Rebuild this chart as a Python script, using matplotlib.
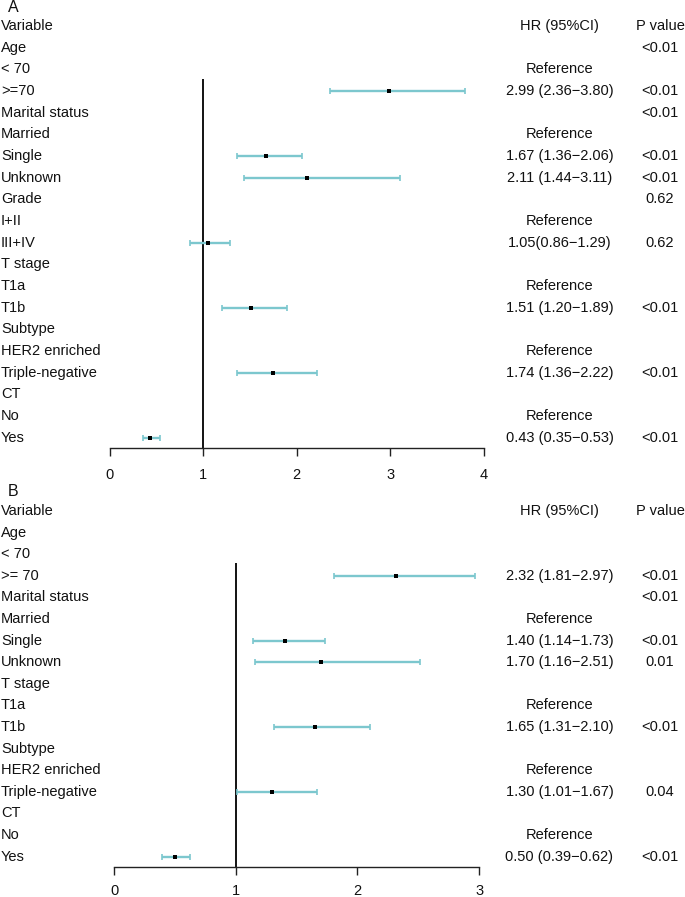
import numpy as np
import matplotlib
matplotlib.use("Agg")
import matplotlib.pyplot as plt

plt.rcParams['font.family'] = ['Liberation Sans', 'DejaVu Sans']

nan = np.nan

# ---------------- Panel A data ----------------
labels_A = ["Variable", "Age", "< 70", ">=70", "Marital status", "Married", "Single",
            "Unknown", "Grade", "I+II", "III+IV", "T stage", "T1a", "T1b", "Subtype",
            "HER2 enriched", "Triple-negative", "CT", "No", "Yes"]
hr_A = ["HR (95%CI)", "", "Reference", "2.99 (2.36\u22123.80)", "", "Reference",
        "1.67 (1.36\u22122.06)", "2.11 (1.44\u22123.11)", "", "Reference",
        "1.05(0.86\u22121.29)", "", "Reference", "1.51 (1.20\u22121.89)", "",
        "Reference", "1.74 (1.36\u22122.22)", "", "Reference", "0.43 (0.35\u22120.53)"]
p_A = ["P value", "<0.01", "", "<0.01", "<0.01", "", "<0.01", "<0.01", "0.62", "",
       "0.62", "", "", "<0.01", "", "", "<0.01", "", "", "<0.01"]
est_A = [nan, nan, nan, 2.99, nan, nan, 1.67, 2.11, nan, nan, 1.05, nan, nan, 1.51,
         nan, nan, 1.74, nan, nan, 0.43]
lo_A = [nan, nan, nan, 2.36, nan, nan, 1.36, 1.44, nan, nan, 0.86, nan, nan, 1.20,
        nan, nan, 1.36, nan, nan, 0.35]
hi_A = [nan, nan, nan, 3.80, nan, nan, 2.06, 3.11, nan, nan, 1.29, nan, nan, 1.89,
        nan, nan, 2.22, nan, nan, 0.53]
ticks_A = [0, 1, 2, 3, 4]

# ---------------- Panel B data ----------------
labels_B = ["Variable", "Age", "< 70", ">= 70", "Marital status", "Married", "Single",
            "Unknown", "T stage", "T1a", "T1b", "Subtype", "HER2 enriched",
            "Triple-negative", "CT", "No", "Yes"]
hr_B = ["HR (95%CI)", "", "", "2.32 (1.81\u22122.97)", "", "Reference",
        "1.40 (1.14\u22121.73)", "1.70 (1.16\u22122.51)", "", "Reference",
        "1.65 (1.31\u22122.10)", "", "Reference", "1.30 (1.01\u22121.67)", "",
        "Reference", "0.50 (0.39\u22120.62)"]
p_B = ["P value", "", "", "<0.01", "<0.01", "", "<0.01", "0.01", "", "", "<0.01",
       "", "", "0.04", "", "", "<0.01"]
est_B = [nan, nan, nan, 2.32, nan, nan, 1.40, 1.70, nan, nan, 1.65, nan, nan, 1.30,
         nan, nan, 0.50]
lo_B = [nan, nan, nan, 1.81, nan, nan, 1.14, 1.16, nan, nan, 1.31, nan, nan, 1.01,
        nan, nan, 0.39]
hi_B = [nan, nan, nan, 2.97, nan, nan, 1.73, 2.51, nan, nan, 2.10, nan, nan, 1.67,
        nan, nan, 0.62]
ticks_B = [0, 1, 2, 3]

W, H = 685, 897
fig = plt.figure(figsize=(W / 100, H / 100), dpi=100)

BAR_COLOR = "#7CC7CE"
FS = 10.5


def panel(letter, labels, hr, p, est, lo, hi, ticks, row0_px, step_px, axis_px,
          x0_px, unit_px, vtop_px, letter_px, tick_pad):
    # axes covering the full width; bottom at the x axis line
    top_px = row0_px - step_px * 1.6
    ax = fig.add_axes([0, 1 - axis_px / H, 1, (axis_px - top_px) / H])
    n = len(labels)
    ybot = (axis_px - row0_px) / step_px
    ytop = (top_px - row0_px) / step_px
    ax.set_ylim(ybot, ytop)
    ax.set_xlim(-x0_px / unit_px, (W - x0_px) / unit_px)
    ax.patch.set_alpha(0)
    for s in ["top", "right", "left"]:
        ax.spines[s].set_visible(False)
    ax.spines["bottom"].set_bounds(ticks[0], ticks[-1])
    ax.spines["bottom"].set_linewidth(1.0)
    ax.spines["bottom"].set_color("#222222")
    ax.set_yticks([])
    ax.set_xticks(ticks)
    ax.set_xticklabels([str(t) for t in ticks])
    ax.tick_params(axis="x", length=5.5, width=1.0, color="#222222", pad=tick_pad,
                   labelsize=FS, labelcolor="#111111")

    rows = np.arange(n)
    # reference line at HR = 1
    ytop_line = (vtop_px - row0_px) / step_px
    ax.plot([1, 1], [ytop_line, ybot], color="black", lw=1.3, solid_capstyle="butt")

    est = np.array(est)
    lo = np.array(lo)
    hi = np.array(hi)
    m = ~np.isnan(est)
    ax.errorbar(est[m], rows[m], xerr=[est[m] - lo[m], hi[m] - est[m]], fmt="none",
                ecolor=BAR_COLOR, elinewidth=1.7, capsize=2.5, capthick=1.2)
    ax.plot(est[m], rows[m], "s", color="black", markersize=2.8, markeredgewidth=0)

    xl = -x0_px / unit_px + 1 / unit_px
    xhr = (559.5 - x0_px) / unit_px
    xp = (660 - x0_px) / unit_px
    for i in range(n):
        ax.text(xl, i, labels[i], ha="left", va="center", fontsize=FS, color="#111111")
        if hr[i]:
            ax.text(xhr, i, hr[i], ha="center", va="center", fontsize=FS, color="#111111")
        if p[i]:
            ax.text(xp, i, p[i], ha="center", va="center", fontsize=FS, color="#111111")
    ax.text(xl + 7 / unit_px, (letter_px - row0_px) / step_px, letter, ha="left",
            va="center", fontsize=FS + 1, color="#111111")
    return ax


panel("A", labels_A, hr_A, p_A, est_A, lo_A, hi_A, ticks_A,
      row0_px=26.0, step_px=21.67, axis_px=448.3, x0_px=110.0, unit_px=93.4,
      vtop_px=79.0, letter_px=8.0, tick_pad=8.5)
panel("B", labels_B, hr_B, p_B, est_B, lo_B, hi_B, ticks_B,
      row0_px=511.0, step_px=21.6, axis_px=866.7, x0_px=114.3, unit_px=121.6,
      vtop_px=563.0, letter_px=491.0, tick_pad=7.0)

fig.savefig("out.png", dpi=100)
